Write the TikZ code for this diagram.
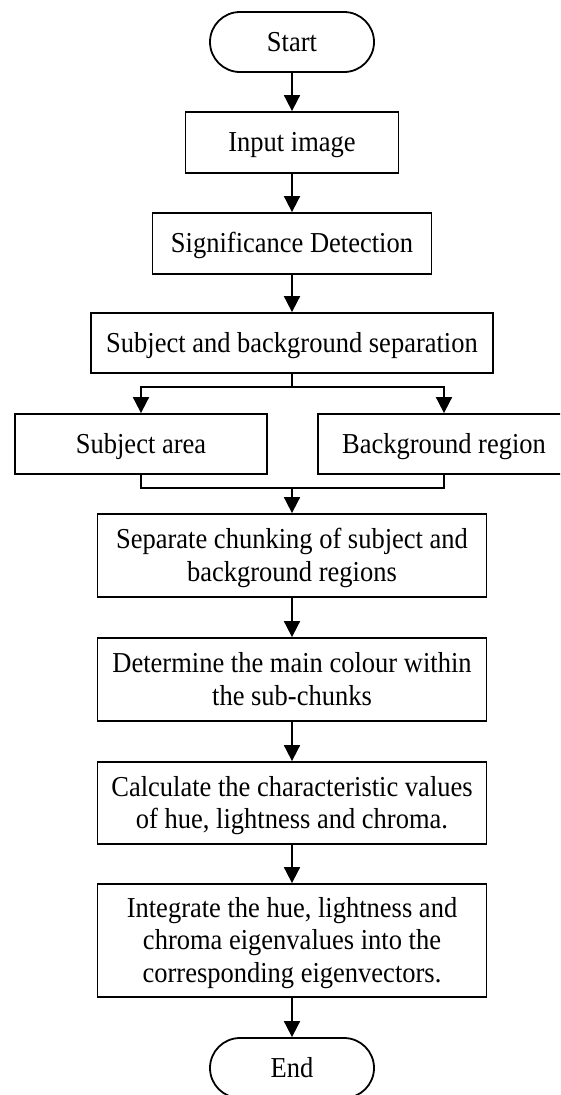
\documentclass[tikz,border=0pt]{standalone}
\usepackage{fontspec}
\usepackage{graphicx}
\setmainfont{Liberation Serif}
\usetikzlibrary{arrows.meta}
\newcommand{\tx}[1]{\raisebox{-3pt}[\height][\depth]{\scalebox{1}[1.09]{\begin{tabular}{@{}c@{}}#1\end{tabular}}}}
\begin{document}
\begin{tikzpicture}[x=1pt,y=-1pt,
  every node/.style={font=\fontsize{26.5}{29.5}\selectfont, inner sep=0pt, align=center},
  box/.style={draw=black, line width=1.8pt, fill=white, rectangle},
  term/.style={draw=black, line width=1.8pt, fill=white, rectangle, rounded corners=30pt, minimum width=164pt, minimum height=60pt},
  conn/.style={draw=black, line width=1.8pt},
  arr/.style={conn, -{Triangle[length=16pt,width=16pt]}}
]
\clip (0,0) rectangle (560,1095);
\fill[white] (0,0) rectangle (560,1095);

\node[term] (start) at (292,42) {\tx{Start}};
\node[box, minimum width=213pt, minimum height=61pt] (input) at (292,142.5) {\tx{Input image}};
\node[box, minimum width=279pt, minimum height=61pt] (sig) at (292,243.5) {\tx{Significance Detection}};
\node[box, minimum width=402pt, minimum height=60pt] (sep) at (292,343) {\tx{Subject and background separation}};
\node[box, minimum width=252pt, minimum height=60pt] (subj) at (141,444) {\tx{Subject area}};
\node[box, minimum width=252pt, minimum height=60pt] (bg) at (444,444) {\tx{Background region}};
\node[box, minimum width=389pt, minimum height=83pt] (chunk) at (292,555.5) {\tx{Separate chunking of subject and\\background regions}};
\node[box, minimum width=389pt, minimum height=83pt] (det) at (292,679.5) {\tx{Determine the main colour within\\the sub-chunks}};
\node[box, minimum width=389pt, minimum height=82pt] (calc) at (292,803) {\tx{Calculate the characteristic values\\of hue, lightness and chroma.}};
\node[box, minimum width=389pt, minimum height=113pt] (integ) at (292,940.5) {\tx{Integrate the hue, lightness and\\chroma eigenvalues into the\\corresponding eigenvectors.}};
\node[term] (end) at (292,1068) {\tx{End}};

\coordinate (sp) at (292,387);
\coordinate (mg) at (292,488);

\draw[arr] (start) -- (input);
\draw[arr] (input) -- (sig);
\draw[arr] (sig) -- (sep);
\draw[conn] (sep.south) -- (sp);
\draw[arr] (sp) -| (subj.north);
\draw[arr] (sp) -| (bg.north);
\draw[conn] (subj.south) |- (mg);
\draw[conn] (bg.south) |- (mg);
\draw[arr] (mg) -- (chunk.north);
\draw[arr] (chunk) -- (det);
\draw[arr] (det) -- (calc);
\draw[arr] (calc) -- (integ);
\draw[arr] (integ) -- (end);
\end{tikzpicture}
\end{document}
